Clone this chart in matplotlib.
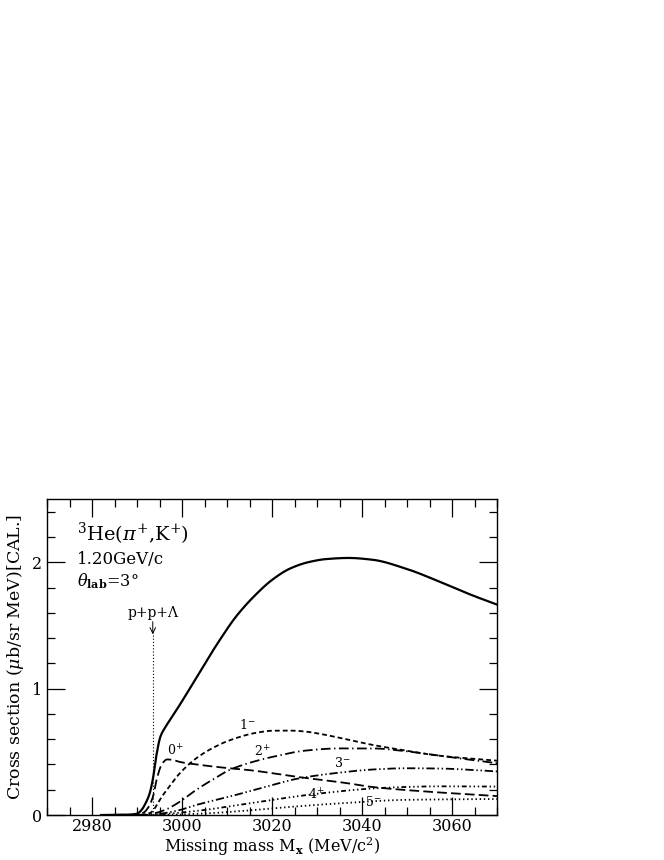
import numpy as np
import matplotlib.pyplot as plt
from matplotlib.ticker import MultipleLocator

plt.rcParams['font.family'] = ['DejaVu Serif']
plt.rcParams['mathtext.fontset'] = 'dejavuserif'
plt.rcParams['lines.scale_dashes'] = False

# total spectrum
m_tot = [2982, 2988, 2990, 2991, 2992, 2992.8, 2993.5, 2994.3, 2995.2, 2996.2, 2997.5, 3000,
         3004.6, 3008.3, 3012, 3016, 3020, 3024, 3028, 3032, 3037, 3042.3, 3049.7, 3057,
         3064.4, 3070]
s_tot = [0, 0.002, 0.01, 0.04, 0.1, 0.17, 0.28, 0.47, 0.62, 0.69, 0.76, 0.9,
         1.17, 1.38, 1.57, 1.73, 1.86, 1.95, 2.0, 2.025, 2.034, 2.02, 1.95, 1.85,
         1.74, 1.665]

# components
m_0p = [2982, 2990, 2991.5, 2992.5, 2993.5, 2994.5, 2995.5, 2996.7, 2998, 2999.5, 3003.2,
        3010.5, 3015, 3026, 3037.1, 3041.5, 3052.6, 3070]
s_0p = [0, 0.003, 0.02, 0.06, 0.14, 0.3, 0.4, 0.44, 0.435, 0.42, 0.40,
        0.37, 0.355, 0.30, 0.25, 0.225, 0.19, 0.15]

m_1m = [2982, 2990, 2992.8, 2995.8, 2999.5, 3003.2, 3006.8, 3010.5, 3016.4, 3020.1, 3024,
        3027.5, 3031, 3034.9, 3042.3, 3049.7, 3057, 3070]
s_1m = [0, 0.001, 0.015, 0.16, 0.33, 0.45, 0.53, 0.59, 0.65, 0.667, 0.668,
        0.66, 0.64, 0.612, 0.555, 0.51, 0.47, 0.43]

m_2p = [2982, 2991, 2994, 2996.5, 2999.5, 3003.2, 3006.8, 3010.5, 3017.2, 3020.1, 3027.5,
        3034.9, 3042.3, 3049.7, 3057, 3070]
s_2p = [0, 0.0, 0.015, 0.045, 0.105, 0.2, 0.28, 0.356, 0.435, 0.46, 0.51,
        0.527, 0.527, 0.505, 0.47, 0.41]

m_3m = [2982, 2991, 2995, 2999, 3003.2, 3010.5, 3017.2, 3026, 3034.9, 3042.3, 3049.7,
        3057, 3070]
s_3m = [0, 0.0, 0.01, 0.035, 0.08, 0.145, 0.21, 0.29, 0.335, 0.36, 0.37,
        0.368, 0.345]

m_4p = [2982, 2992, 2996, 3000, 3005, 3012.7, 3020, 3030.5, 3042.3, 3049.7, 3057, 3070]
s_4p = [0, 0.0, 0.008, 0.02, 0.04, 0.08, 0.12, 0.17, 0.21, 0.222, 0.227, 0.225]

m_5m = [2982, 2993, 3000, 3005, 3012.7, 3020.1, 3034.9, 3049.7, 3070]
s_5m = [0, 0.0, 0.005, 0.012, 0.03, 0.053, 0.092, 0.12, 0.127]

threshold = 2993.5


def smooth(mx, sx):
    # shape-preserving cubic through the read points
    mx = np.asarray(mx, float)
    sx = np.asarray(sx, float)
    xx = np.linspace(mx[0], mx[-1], 800)
    h = np.diff(mx)
    d = np.diff(sx) / h
    t = np.zeros_like(sx)
    for i in range(1, len(sx) - 1):
        if d[i - 1] * d[i] > 0:
            w1 = 2 * h[i] + h[i - 1]
            w2 = h[i] + 2 * h[i - 1]
            t[i] = (w1 + w2) / (w1 / d[i - 1] + w2 / d[i])
    t[0] = d[0]
    t[-1] = d[-1]
    idx = np.clip(np.searchsorted(mx, xx) - 1, 0, len(mx) - 2)
    u = (xx - mx[idx]) / h[idx]
    yy = ((2 * u**3 - 3 * u**2 + 1) * sx[idx] + (u**3 - 2 * u**2 + u) * h[idx] * t[idx]
          + (-2 * u**3 + 3 * u**2) * sx[idx + 1] + (u**3 - u**2) * h[idx] * t[idx + 1])
    return xx, yy


fig = plt.figure(figsize=(6.64, 8.6), dpi=100)
ax = fig.add_axes([0.0708, 0.0523, 0.6777, 0.3674])

lw = 1.3
ax.plot(*smooth(m_tot, s_tot), color='black', lw=1.6)
ax.plot(*smooth(m_0p, s_0p), color='black', lw=lw, dashes=(7, 3))
ax.plot(*smooth(m_1m, s_1m), color='black', lw=lw, dashes=(3.5, 2.2))
ax.plot(*smooth(m_2p, s_2p), color='black', lw=lw, dashes=(7, 2.5, 1, 2.5))
ax.plot(*smooth(m_3m, s_3m), color='black', lw=lw, dashes=(6, 2, 1, 2, 1, 2))
ax.plot(*smooth(m_4p, s_4p), color='black', lw=lw, dashes=(3.5, 2, 1, 2, 1, 2, 1, 2))
ax.plot(*smooth(m_5m, s_5m), color='black', lw=lw, dashes=(1, 2))

# threshold marker
ax.plot([threshold, threshold], [0, 1.45], color='black', lw=0.8, dashes=(0.8, 1.5))
ax.annotate('', xy=(threshold, 1.43), xytext=(threshold, 1.53),
            arrowprops=dict(arrowstyle='->', lw=0.7, color='black', shrinkA=0, shrinkB=0))
ax.text(threshold, 1.6, 'p+p+Λ', ha='center', va='center', fontsize=10)

# labels on curves
ax.text(2998.5, 0.51, r'$0^{+}$', fontsize=9, ha='center', va='center')
ax.text(3014.5, 0.71, r'$1^{-}$', fontsize=9, ha='center', va='center')
ax.text(3017.8, 0.5, r'$2^{+}$', fontsize=9, ha='center', va='center')
ax.text(3035.6, 0.41, r'$3^{-}$', fontsize=9, ha='center', va='center')
ax.text(3029.8, 0.16, r'$4^{+}$', fontsize=9, ha='center', va='center')
ax.text(3042.6, 0.1, r'$5^{-}$', fontsize=9, ha='center', va='center')

# header text
ax.text(0.066, 0.888, r'$^{3}$He($\pi^{+}$,K$^{+}$)', transform=ax.transAxes,
        fontsize=14, ha='left', va='center')
ax.text(0.066, 0.81, '1.20GeV/c', transform=ax.transAxes, fontsize=12, ha='left', va='center')
ax.text(0.066, 0.74, r'$\theta_{\mathbf{lab}}$=3°', transform=ax.transAxes,
        fontsize=11.5, ha='left', va='center')

ax.set_xlim(2970, 3070)
ax.set_ylim(0, 2.5)
ax.xaxis.set_major_locator(MultipleLocator(20))
ax.xaxis.set_minor_locator(MultipleLocator(5))
ax.yaxis.set_major_locator(MultipleLocator(1))
ax.yaxis.set_minor_locator(MultipleLocator(0.2))
ax.tick_params(which='both', direction='in', top=True, right=True, labelsize=11.5, width=0.9)
ax.tick_params(which='major', length=13)
ax.tick_params(which='minor', length=6)
ax.tick_params(axis='x', pad=2.5)
for sp in ax.spines.values():
    sp.set_linewidth(1.0)

ax.set_xlabel(r'Missing mass M$_{\mathbf{x}}$ (MeV/c$^{2}$)', fontsize=11.5, labelpad=0)
ax.set_ylabel(r'Cross section ($\mu$b/sr MeV)[CAL.]', fontsize=12.5, labelpad=4)

fig.savefig('out.png', dpi=100)
